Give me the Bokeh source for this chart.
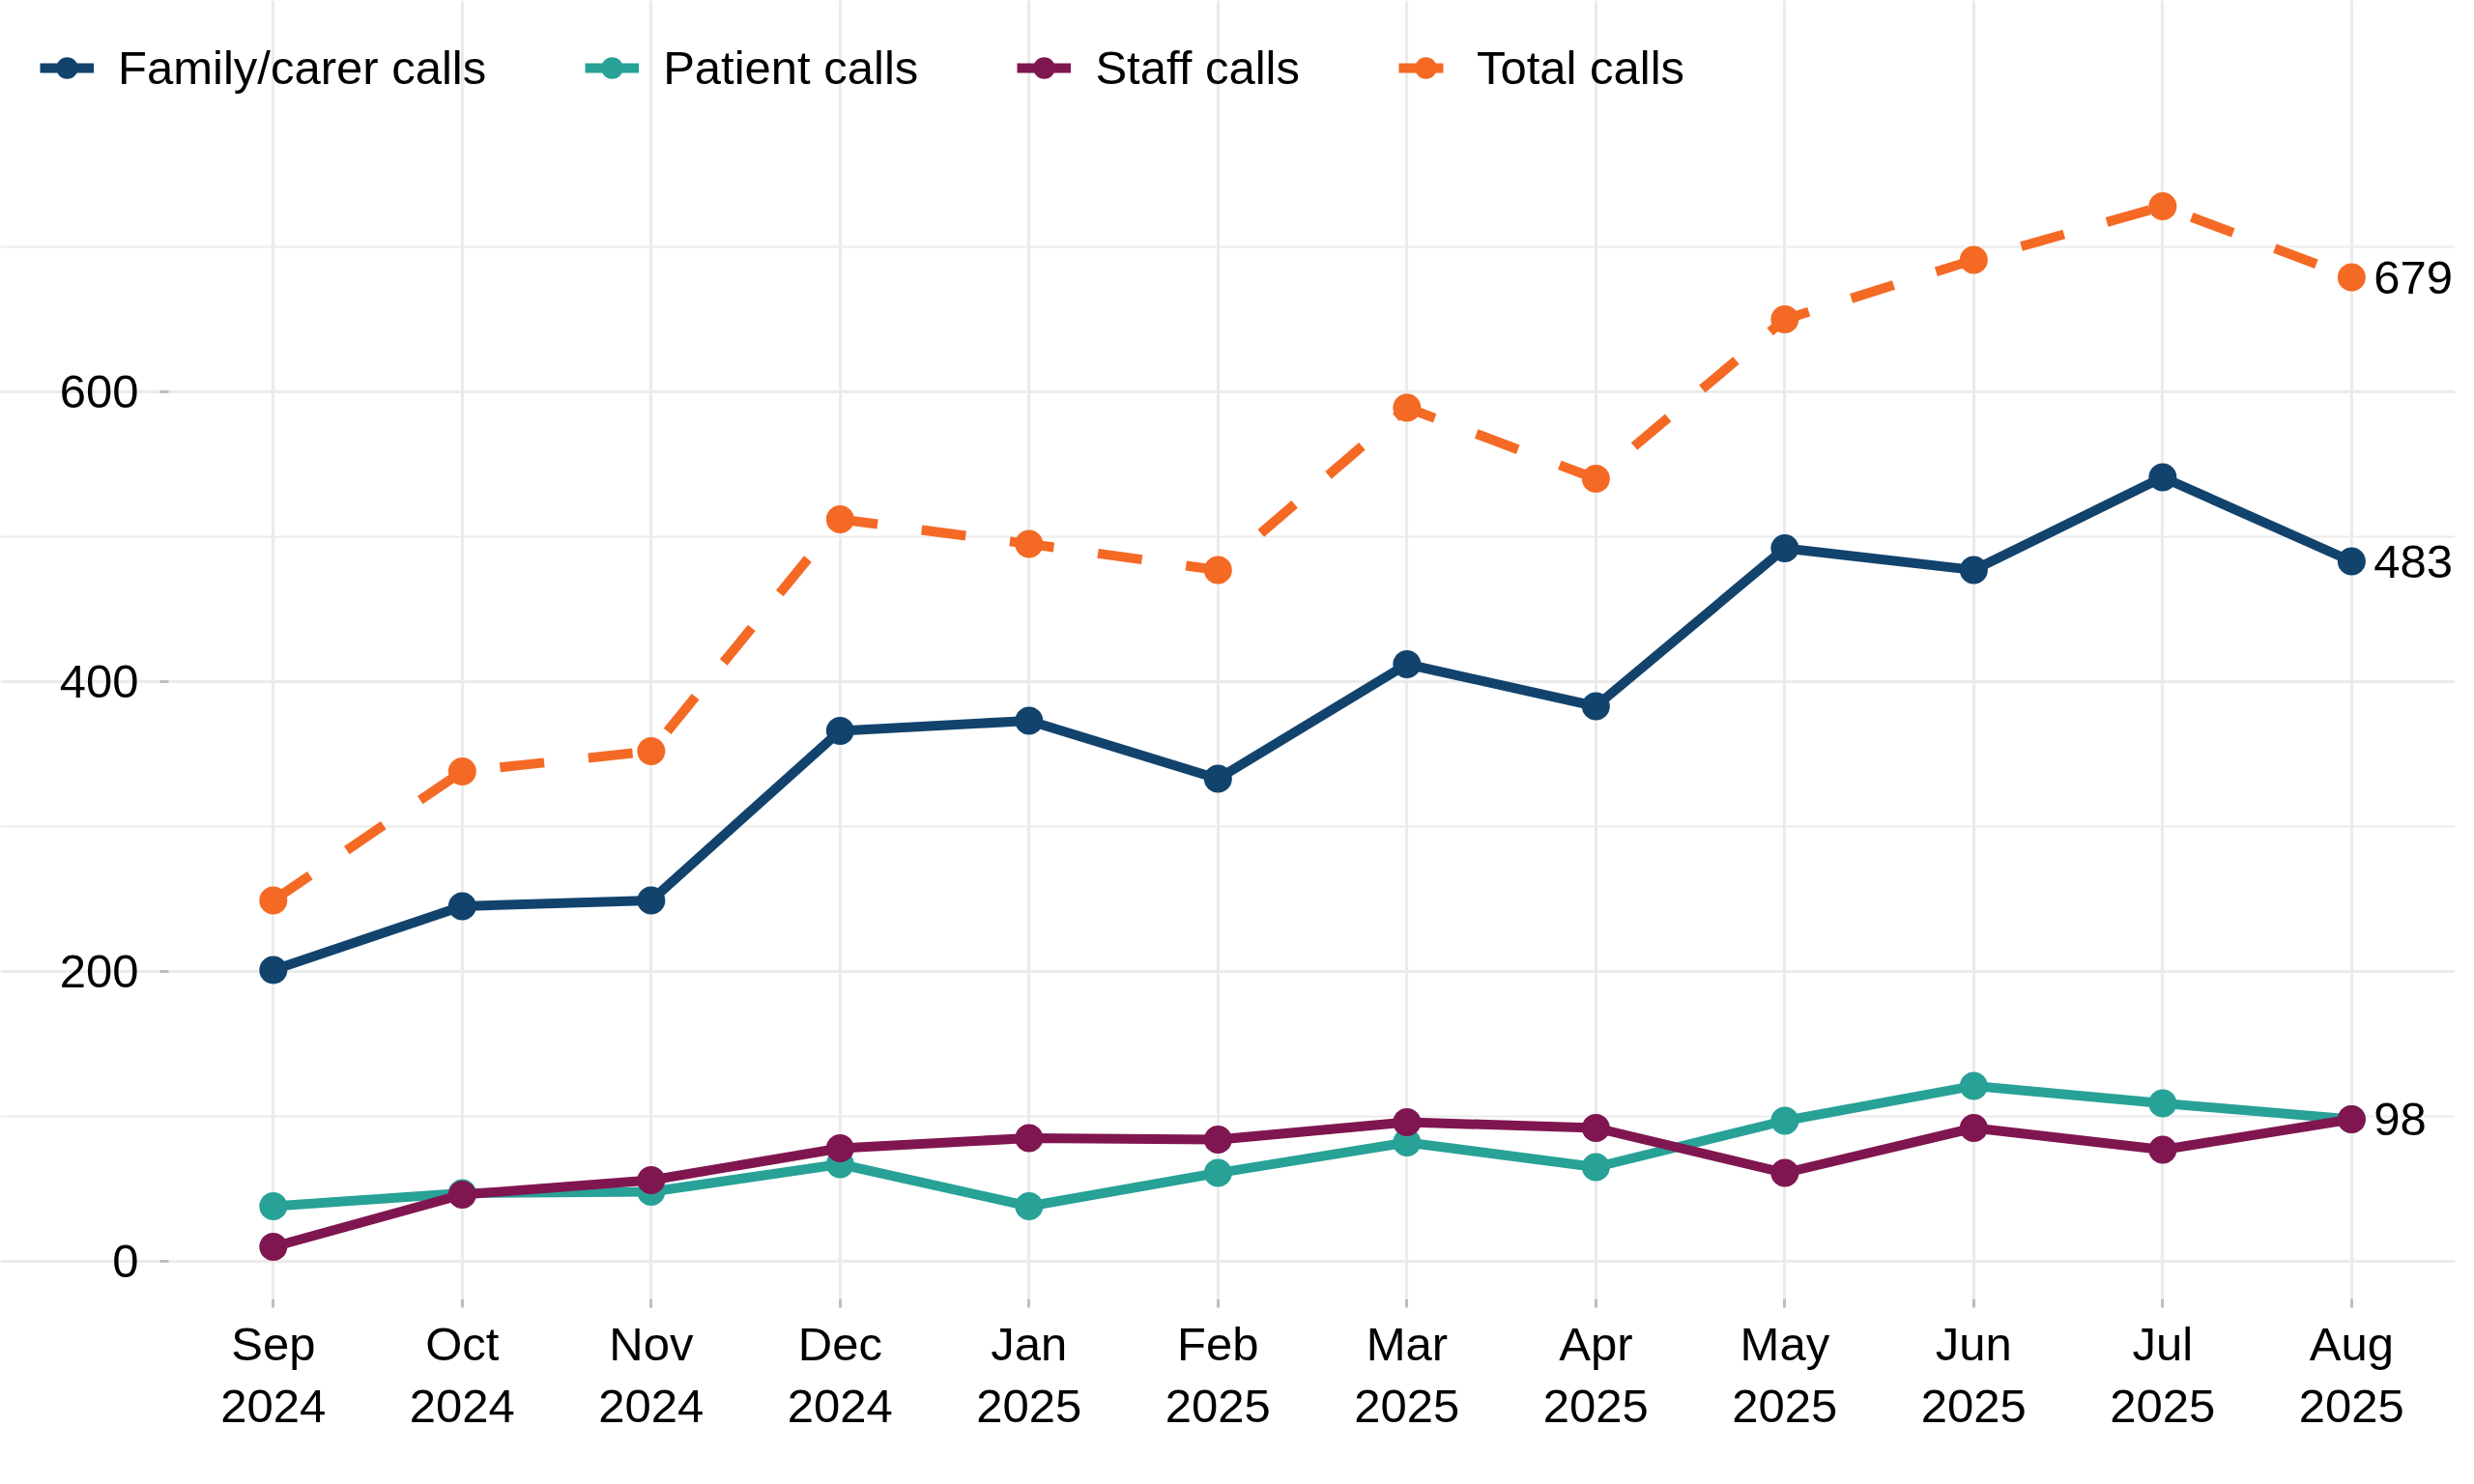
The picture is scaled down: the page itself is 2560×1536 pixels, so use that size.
from bokeh.plotting import figure
from bokeh.models import (Range1d, FixedTicker, Legend, LegendItem, ColumnDataSource)
from bokeh.core.properties import value
from bokeh.embed import file_html
from bokeh.resources import INLINE

# ---------------- data ----------------
month_labels = ["Sep\n2024", "Oct\n2024", "Nov\n2024", "Dec\n2024",
                "Jan\n2025", "Feb\n2025", "Mar\n2025", "Apr\n2025",
                "May\n2025", "Jun\n2025", "Jul\n2025", "Aug\n2025"]
family_calls = [201, 245, 249, 366, 373, 333, 412, 383, 492, 477, 541, 483]
patient_calls = [38, 47, 48, 67, 38, 61, 82, 65, 97, 121, 109, 98]
staff_calls = [10, 46, 56, 78, 85, 84, 96, 92, 61, 92, 77, 98]
total_calls = [249, 338, 352, 512, 495, 477, 589, 540, 650, 691, 728, 679]
end_labels = ["679", "483", "98"]
end_values = [total_calls[-1], family_calls[-1], staff_calls[-1]]
y_major = [0, 200, 400, 600]
y_minor = [100, 300, 500, 700]

series_names = ["Family/carer calls", "Patient calls", "Staff calls", "Total calls"]
series_values = [family_calls, patient_calls, staff_calls, total_calls]
series_colors = ["#12436D", "#28A197", "#801650", "#F46A25"]
series_dash = ["solid", "solid", "solid", "46 46"]

FONT = "Liberation Sans"
FS = "49px"

x_idx = list(range(len(month_labels)))
X0, X1 = -0.554, 11.548        # panel extent (data units)
Y0, Y1 = -26, 764.5

p = figure(width=2548, height=1520, output_backend="svg", toolbar_location=None,
           x_range=Range1d(-1.444, X1), y_range=Range1d(Y0, 870),
           min_border_left=0, min_border_right=8, min_border_top=0,
           min_border_bottom=176, background_fill_color="white",
           border_fill_color="white")
p.outline_line_color = None

# axes
p.xaxis.ticker = FixedTicker(ticks=x_idx)
p.xaxis.major_label_overrides = {i: lab for i, lab in enumerate(month_labels)}
p.yaxis.ticker = FixedTicker(ticks=y_major)
p.yaxis.fixed_location = X0
for ax in (p.xaxis[0], p.yaxis[0]):
    ax.axis_line_color = None
    ax.major_tick_line_color = "#BDBDBD"
    ax.major_tick_line_width = 3
    ax.major_tick_out = 9
    ax.major_tick_in = 0
    ax.minor_tick_line_color = None
    ax.major_label_text_font = FONT
    ax.major_label_text_font_size = FS
    ax.major_label_text_color = "black"
p.yaxis.major_label_standoff = 22
p.xaxis.major_label_standoff = 10

# grid
p.xgrid.ticker = FixedTicker(ticks=x_idx)
p.xgrid.bounds = (Y0, Y1)
p.xgrid.grid_line_color = "#EBEBEB"
p.xgrid.grid_line_width = 3.2
p.ygrid.ticker = FixedTicker(ticks=y_major, minor_ticks=y_minor)
p.ygrid.bounds = (X0, X1)
p.ygrid.grid_line_color = "#EBEBEB"
p.ygrid.grid_line_width = 3
p.ygrid.minor_grid_line_color = "#EBEBEB"
p.ygrid.minor_grid_line_width = 1.8

items = []
for name, vals, col, dash in zip(series_names, series_values, series_colors, series_dash):
    src = ColumnDataSource(dict(x=x_idx, y=vals))
    ln = p.line("x", "y", source=src, line_color=col, line_width=10, line_dash=dash)
    sc = p.scatter("x", "y", source=src, size=29, fill_color=col, line_color=None)
    items.append(LegendItem(label=name, renderers=[ln, sc]))

# end labels
lab_src = ColumnDataSource(dict(x=[x_idx[-1]] * len(end_labels), y=end_values, t=end_labels))
p.text("x", "y", text="t", source=lab_src, x_offset=23, text_align="left",
       text_baseline="middle", text_font=value(FONT), text_font_size=FS,
       text_color="black")

legend = Legend(items=items, orientation="horizontal", location=(41, 1239),
                glyph_width=56, glyph_height=70, label_standoff=25, spacing=102,
                padding=0, margin=0, border_line_color=None,
                background_fill_alpha=0, label_text_font=FONT,
                label_text_font_size=FS, label_text_color="black",
                label_height=49)
p.add_layout(legend, "center")

open("out.html", "w").write(file_html(p, INLINE))
